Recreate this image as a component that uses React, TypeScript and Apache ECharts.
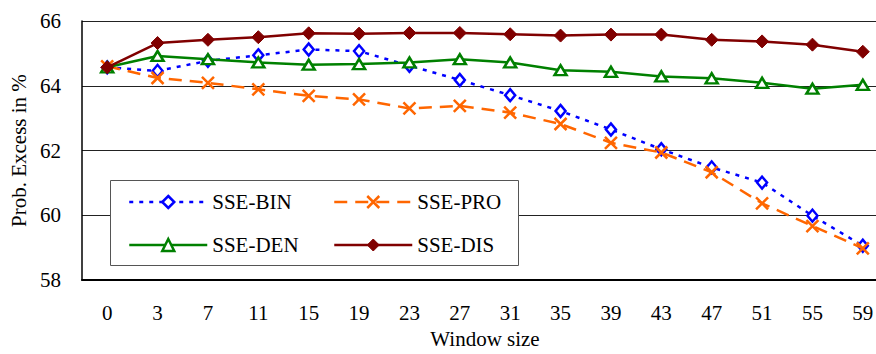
import React, { useEffect, useRef } from 'react';
import * as echarts from 'echarts';

const categories = ['0', '3', '7', '11', '15', '19', '23', '27', '31', '35', '39', '43', '47', '51', '55', '59'];
const sseBin = [64.57, 64.46, 64.77, 64.94, 65.12, 65.07, 64.62, 64.18, 63.71, 63.22, 62.65, 62.04, 61.48, 61.01, 59.99, 59.06];
const ssePro = [64.6, 64.24, 64.09, 63.89, 63.69, 63.58, 63.3, 63.38, 63.17, 62.82, 62.24, 61.94, 61.33, 60.37, 59.67, 58.98];
const sseDen = [64.57, 64.92, 64.82, 64.72, 64.65, 64.67, 64.72, 64.82, 64.72, 64.48, 64.43, 64.29, 64.23, 64.09, 63.91, 64.03];
const sseDis = [64.57, 65.32, 65.42, 65.5, 65.62, 65.61, 65.63, 65.63, 65.59, 65.55, 65.58, 65.58, 65.42, 65.37, 65.27, 65.05];
const yMin = 58;
const yMax = 66;
const yInterval = 2;

const FONT = '"Liberation Serif", "Times New Roman", serif';
const BLUE = '#0000FF';
const ORANGE = '#FF6600';
const GREEN = '#008000';
const DARKRED = '#800000';
const CROSS = 'path://M0,0L10,10M0,10L10,0';

export default function App() {
  const ref = useRef<HTMLDivElement>(null);
  useEffect(() => {
    document.body.style.margin = '0';
    const chart = echarts.init(ref.current!, undefined, { renderer: 'svg' });
    const textStyle = { fontFamily: FONT, fontSize: 21, color: '#000' };
    const legendCommon = {
      orient: 'vertical' as const,
      itemWidth: 78,
      itemHeight: 15,
      itemGap: 21,
      padding: 0,
      selectedMode: false,
      textStyle: { ...textStyle, lineHeight: 22 },
      z: 10,
    };
    chart.setOption({
      animation: false,
      backgroundColor: '#fff',
      grid: { left: 82, right: 0, top: 21, bottom: 69 },
      xAxis: {
        type: 'category',
        data: categories,
        boundaryGap: true,
        name: 'Window size',
        nameLocation: 'middle',
        nameGap: 47,
        nameTextStyle: textStyle,
        axisLine: { lineStyle: { color: '#000', width: 2 } },
        axisTick: { inside: true, length: 7, lineStyle: { color: '#000', width: 1 } },
        axisLabel: { ...textStyle, margin: 22 },
        splitLine: { show: false },
      },
      yAxis: {
        type: 'value',
        min: yMin,
        max: yMax,
        interval: yInterval,
        name: 'Prob. Excess in %',
        nameLocation: 'middle',
        nameRotate: 90,
        nameGap: 50,
        nameTextStyle: textStyle,
        axisLine: { show: true, lineStyle: { color: '#000', width: 1.5 } },
        axisTick: { show: false },
        axisLabel: { ...textStyle, margin: 21 },
        splitLine: { show: true, lineStyle: { color: '#222', width: 1 } },
      },
      legend: [
        {
          ...legendCommon,
          left: 128,
          top: 191,
          data: [
            {
              name: 'SSE-BIN',
              itemStyle: { color: '#fff', borderColor: BLUE, borderWidth: 2.5 },
              lineStyle: { color: BLUE, width: 2.5, type: [4, 6] },
            },
            {
              name: 'SSE-DEN',
              itemStyle: { color: '#fff', borderColor: GREEN, borderWidth: 2.5 },
              lineStyle: { color: GREEN, width: 2.5, type: 'solid' },
            },
          ],
        },
        {
          ...legendCommon,
          left: 333,
          top: 191,
          data: [
            {
              name: 'SSE-PRO',
              itemStyle: { color: ORANGE, borderColor: ORANGE, borderWidth: 2.5 },
              lineStyle: { color: ORANGE, width: 2.5, type: [13, 8] },
            },
            {
              name: 'SSE-DIS',
              itemStyle: { color: DARKRED, borderColor: DARKRED, borderWidth: 1 },
              lineStyle: { color: DARKRED, width: 2.5, type: 'solid' },
            },
          ],
        },
      ],
      graphic: [
        {
          type: 'rect',
          shape: { x: 110.5, y: 180.5, width: 408, height: 85 },
          style: { fill: '#fff', stroke: '#555', lineWidth: 1 },
          z: 5,
        },
      ],
      series: [
        {
          name: 'SSE-BIN',
          type: 'line',
          data: sseBin,
          symbol: 'diamond',
          symbolSize: [10, 12],
          lineStyle: { color: BLUE, width: 2.5, type: [4, 6] },
          itemStyle: { color: '#fff', borderColor: BLUE, borderWidth: 2.5 },
          z: 2,
        },
        {
          name: 'SSE-PRO',
          type: 'line',
          data: ssePro,
          symbol: CROSS,
          symbolSize: 12,
          lineStyle: { color: ORANGE, width: 2.5, type: [13, 8] },
          itemStyle: { color: ORANGE, borderColor: ORANGE, borderWidth: 2.5 },
          z: 3,
        },
        {
          name: 'SSE-DEN',
          type: 'line',
          data: sseDen,
          symbol: 'triangle',
          symbolSize: [12, 10],
          lineStyle: { color: GREEN, width: 2.5 },
          itemStyle: { color: '#fff', borderColor: GREEN, borderWidth: 2.5 },
          z: 4,
        },
        {
          name: 'SSE-DIS',
          type: 'line',
          data: sseDis,
          symbol: 'diamond',
          symbolSize: [13, 13],
          lineStyle: { color: DARKRED, width: 2.5 },
          itemStyle: { color: DARKRED, borderColor: DARKRED, borderWidth: 1 },
          z: 5,
        },
      ],
    });
    return () => chart.dispose();
  }, []);
  return (
    <div style={{ position: 'fixed', left: 0, top: 0, width: 876, height: 354, overflow: 'hidden', background: '#fff' }}>
      <div ref={ref} style={{ width: 888, height: 354 }} />
    </div>
  );
}
